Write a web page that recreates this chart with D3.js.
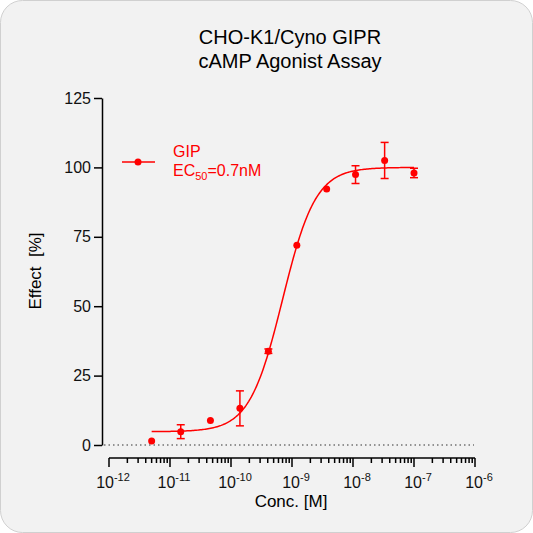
<!DOCTYPE html><html><head><meta charset="utf-8"><script src="https://cdn.jsdelivr.net/npm/d3@7"></script>
<style>body{margin:0;background:#fff}</style></head><body><svg id="c" width="533" height="533"></svg><script>
const conc=[5e-12,1.5e-11,4.6e-11,1.4e-10,4.1e-10,1.2e-9,3.7e-9,1.1e-8,3.3e-8,1e-7];
const effect=[1.4,4.8,8.8,13.2,33.8,72,92.2,97.4,102.5,98];
const errs=[0,2.5,0,6.3,0.8,0,0,3.2,6.5,1.7];
const fit={bottom:4.8,top:100,ec50:7e-10,hill:1.6};
const yTicks=[0,25,50,75,100,125];
const xTicks=[-12,-11,-10,-9,-8,-7,-6];
const svg=d3.select("#c");
svg.append("rect").attr("x",0.5).attr("y",0.5).attr("width",532).attr("height",532).attr("rx",22).attr("fill","#f2f2f2").attr("stroke","#d0d0d0");
const x=d3.scaleLog().domain([1e-12,1e-6]).range([109,475]);
const y=d3.scaleLinear().domain([0,125]).range([445,98]);
const f="Liberation Sans, Arial, sans-serif";
svg.append("text").attr("x",290).attr("y",44).attr("text-anchor","middle").attr("font-family",f).attr("font-size",20).text("CHO-K1/Cyno GIPR");
svg.append("text").attr("x",290).attr("y",68).attr("text-anchor","middle").attr("font-family",f).attr("font-size",20).text("cAMP Agonist Assay");
const ya=svg.append("g").attr("transform","translate(102,0)").call(d3.axisLeft(y).tickValues(yTicks).tickSize(8).tickSizeOuter(0));
ya.select(".domain").attr("stroke-width",1.5);ya.selectAll("line").attr("stroke-width",1.5);
ya.selectAll("text").attr("font-family",f).attr("font-size",16).attr("fill","#111");
svg.append("text").attr("transform","translate(41,271) rotate(-90)").attr("text-anchor","middle").attr("font-family",f).attr("font-size",17).attr("xml:space","preserve").text("Effect  [%]");
const xg=svg.append("g").attr("transform","translate(0,458)");
xg.append("line").attr("x1",x(1e-12)).attr("x2",x(1e-6)).attr("stroke","#000").attr("stroke-width",1.5);
for(let e=-12;e<=-6;e++){for(let m=1;m<=9;m++){if(e==-6&&m>1)break;const v=m*Math.pow(10,e);
xg.append("line").attr("x1",x(v)).attr("x2",x(v)).attr("y1",0).attr("y2",m==1?9:5).attr("stroke","#000").attr("stroke-width",1.5);}}
xTicks.forEach(e=>{const t=xg.append("text").attr("x",x(Math.pow(10,e))+4).attr("y",30).attr("text-anchor","middle").attr("font-family",f).attr("font-size",16).attr("fill","#111");
t.append("tspan").text("10");t.append("tspan").attr("dy",-7).attr("font-size",11).text(e);});
svg.append("text").attr("x",291).attr("y",507).attr("text-anchor","middle").attr("font-family",f).attr("font-size",17).text("Conc. [M]");
svg.append("line").attr("x1",104).attr("x2",474).attr("y1",y(0)).attr("y2",y(0)).attr("stroke","#333").attr("stroke-dasharray","1.5,3");
const red="#ff0000";
const lx=d3.range(0,201).map(i=>Math.log10(conc[0])+i*(Math.log10(conc[9])-Math.log10(conc[0]))/200);
const fn=c=>fit.bottom+(fit.top-fit.bottom)/(1+Math.pow(fit.ec50/c,fit.hill));
svg.append("path").attr("d",d3.line().x(l=>x(Math.pow(10,l))).y(l=>y(fn(Math.pow(10,l))))(lx)).attr("fill","none").attr("stroke",red).attr("stroke-width",1.5);
conc.forEach((c,i)=>{const cx=x(c);if(errs[i]>0){const a=y(effect[i]+errs[i]),b=y(effect[i]-errs[i]);
svg.append("line").attr("x1",cx).attr("x2",cx).attr("y1",a).attr("y2",b).attr("stroke",red).attr("stroke-width",1.5);
[a,b].forEach(yy=>svg.append("line").attr("x1",cx-4).attr("x2",cx+4).attr("y1",yy).attr("y2",yy).attr("stroke",red).attr("stroke-width",1.5));}
svg.append("circle").attr("cx",cx).attr("cy",y(effect[i])).attr("r",3.5).attr("fill",red);});
svg.append("line").attr("x1",122).attr("x2",155).attr("y1",162).attr("y2",162).attr("stroke",red).attr("stroke-width",1.5);
svg.append("circle").attr("cx",138).attr("cy",162).attr("r",3.5).attr("fill",red);
svg.append("text").attr("x",173).attr("y",157).attr("font-family",f).attr("font-size",16).attr("fill",red).text("GIP");
const lt=svg.append("text").attr("x",173).attr("y",176).attr("font-family",f).attr("font-size",16).attr("fill",red);
lt.append("tspan").text("EC");lt.append("tspan").attr("dy",4).attr("font-size",11).text("50");lt.append("tspan").attr("dy",-4).text("=0.7nM");
</script></body></html>
